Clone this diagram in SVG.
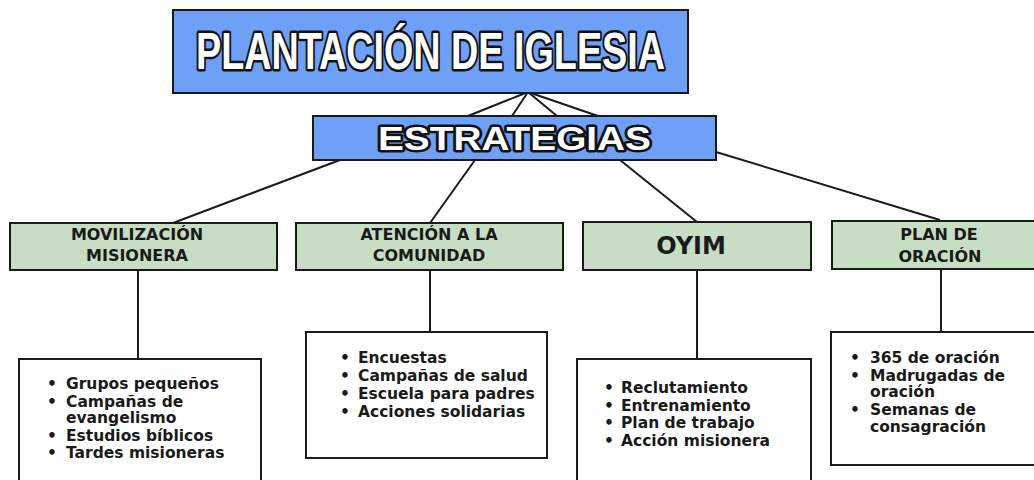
<svg xmlns="http://www.w3.org/2000/svg" width="1034" height="480" viewBox="0 0 1034 480">
<style>
.blue{fill:#6fa0f8;stroke:#1a1a1a;stroke-width:2}
.green{fill:#c8dec4;stroke:#1a1a1a;stroke-width:2}
.list{fill:#ffffff;stroke:#1a1a1a;stroke-width:2}
.title{font-family:"Liberation Sans",Arial,sans-serif;font-weight:bold;fill:#ffffff;stroke:#111111;stroke-width:5;paint-order:stroke;stroke-linejoin:round}
.lbl{font-family:"DejaVu Sans",sans-serif;font-weight:bold;font-size:16px;fill:#1a1a1a;text-anchor:middle}
.li{font-family:"DejaVu Sans",sans-serif;font-weight:bold;font-size:15.5px;fill:#1a1a1a}
.conn line{stroke:#1a1a1a;stroke-width:2}
</style>
<rect width="1034" height="480" fill="#ffffff"/>
<g class="conn" id="connectors">
<line x1="528" y1="92" x2="468" y2="116"/>
<line x1="528" y1="92" x2="512" y2="116"/>
<line x1="528" y1="92" x2="557" y2="116"/>
<line x1="528" y1="92" x2="598" y2="116"/>
<line x1="340" y1="160" x2="173" y2="223"/>
<line x1="475" y1="160" x2="430" y2="223"/>
<line x1="620" y1="160" x2="697" y2="222"/>
<line x1="716" y1="152" x2="940" y2="220"/>
<line x1="138" y1="270" x2="138" y2="359"/>
<line x1="430" y1="270" x2="430" y2="332"/>
<line x1="697" y1="270" x2="697" y2="359"/>
<line x1="941" y1="269" x2="941" y2="332"/>
</g>
<g id="plantacion">
<rect class="blue" x="173" y="10" width="515" height="83"/>
<text class="title" x="430.5" y="69" font-size="51" text-anchor="middle" textLength="469" lengthAdjust="spacingAndGlyphs">PLANTACIÓN DE IGLESIA</text>
</g>
<g id="estrategias">
<rect class="blue" x="313" y="116" width="403" height="44"/>
<text class="title" x="514.5" y="150" font-size="34" text-anchor="middle" textLength="273" lengthAdjust="spacingAndGlyphs">ESTRATEGIAS</text>
</g>
<g id="movilizacion">
<rect class="green" x="10" y="223" width="267" height="47"/>
<text class="lbl" x="137" y="240">MOVILIZACIÓN</text>
<text class="lbl" x="137" y="261">MISIONERA</text>
</g>
<g id="atencion">
<rect class="green" x="296" y="223" width="267" height="47"/>
<text class="lbl" x="429" y="240">ATENCIÓN A LA</text>
<text class="lbl" x="429" y="261">COMUNIDAD</text>
</g>
<g id="oyim">
<rect class="green" x="583" y="222" width="228" height="48"/>
<text class="lbl" x="691" y="254" style="font-size:24px">OYIM</text>
</g>
<g id="plan">
<rect class="green" x="832" y="221" width="210" height="48"/>
<text class="lbl" x="939" y="240">PLAN DE</text>
<text class="lbl" x="940" y="262">ORACIÓN</text>
</g>
<g id="lista-movilizacion">
<rect class="list" x="19" y="359" width="242" height="130"/>
<text class="li"><tspan x="47" y="389">•</tspan><tspan x="66" y="389">Grupos pequeños</tspan><tspan x="47" y="407">•</tspan><tspan x="66" y="407">Campañas de</tspan><tspan x="66" y="423">evangelismo</tspan><tspan x="47" y="441">•</tspan><tspan x="66" y="441">Estudios bíblicos</tspan><tspan x="47" y="458">•</tspan><tspan x="66" y="458">Tardes misioneras</tspan></text>
</g>
<g id="lista-atencion">
<rect class="list" x="306" y="332" width="241" height="126"/>
<text class="li"><tspan x="340" y="363">•</tspan><tspan x="358" y="363">Encuestas</tspan><tspan x="340" y="381">•</tspan><tspan x="358" y="381">Campañas de salud</tspan><tspan x="340" y="399">•</tspan><tspan x="358" y="399">Escuela para padres</tspan><tspan x="340" y="417">•</tspan><tspan x="358" y="417">Acciones solidarias</tspan></text>
</g>
<g id="lista-oyim">
<rect class="list" x="577" y="359" width="234" height="130"/>
<text class="li"><tspan x="604" y="393">•</tspan><tspan x="621" y="393">Reclutamiento</tspan><tspan x="604" y="411">•</tspan><tspan x="621" y="411">Entrenamiento</tspan><tspan x="604" y="428">•</tspan><tspan x="621" y="428">Plan de trabajo</tspan><tspan x="604" y="446">•</tspan><tspan x="621" y="446">Acción misionera</tspan></text>
</g>
<g id="lista-plan">
<rect class="list" x="831" y="332" width="210" height="133"/>
<text class="li"><tspan x="850" y="363">•</tspan><tspan x="870" y="363">365 de oración</tspan><tspan x="850" y="381">•</tspan><tspan x="870" y="381">Madrugadas de</tspan><tspan x="870" y="397">oración</tspan><tspan x="850" y="415">•</tspan><tspan x="870" y="415">Semanas de</tspan><tspan x="870" y="432">consagración</tspan></text>
</g>
</svg>
